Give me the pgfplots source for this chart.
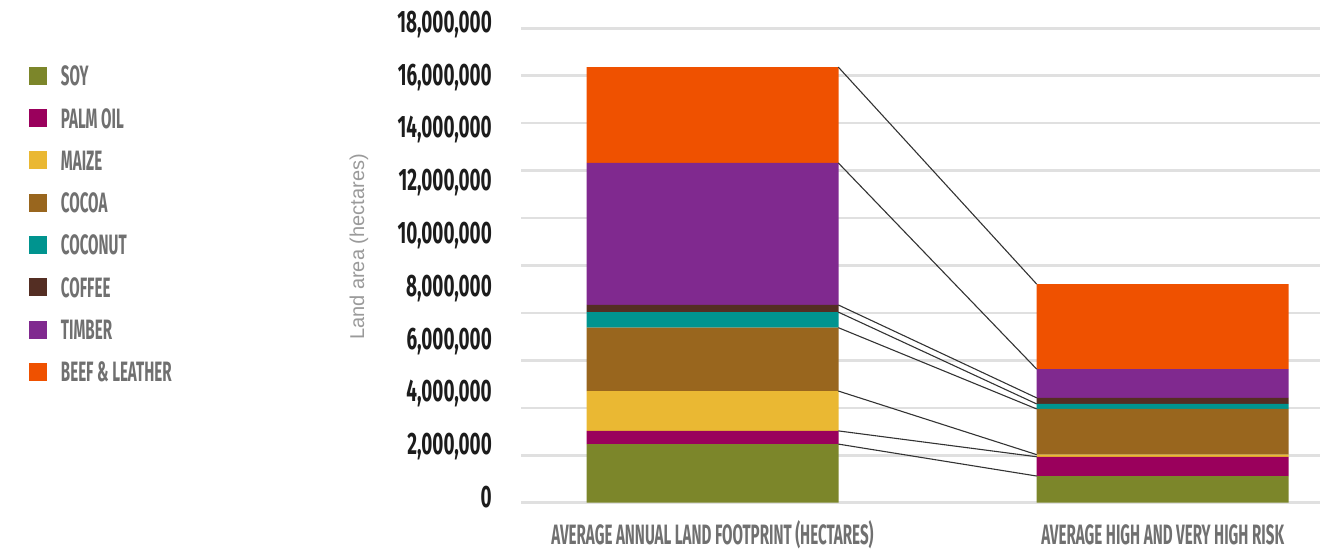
\documentclass[border=0pt]{standalone}
\usepackage{pgfplots}
\pgfplotsset{compat=1.18}
\usepackage{fontspec}
\setmainfont{Liberation Sans}
\newfontfamily\tickfont[FakeStretch=0.61]{Fira Sans}
\newfontfamily\catfont[FakeStretch=0.54]{Fira Sans}

\definecolor{soy}{HTML}{7C862A}
\definecolor{palm}{HTML}{9A005C}
\definecolor{maize}{HTML}{EAB833}
\definecolor{cocoa}{HTML}{99661E}
\definecolor{coconut}{HTML}{00948F}
\definecolor{coffee}{HTML}{542E23}
\definecolor{timber}{HTML}{80298F}
\definecolor{beef}{HTML}{EF5100}
\definecolor{gridgray}{HTML}{E0E0E0}
\definecolor{labgray}{HTML}{707070}
\definecolor{ylabgray}{HTML}{9A9A9A}
\definecolor{ticktext}{HTML}{1C1C1C}
\definecolor{linkgray}{HTML}{333333}

\pgfplotsset{
  sq/.style={fill=#1, draw=none,
    legend image code/.code={\fill[#1] (0pt,-9pt) rectangle (18pt,9pt);}},
  frame/.style={scale only axis, width=799pt, height=475.2pt,
    at={(521pt,49.3pt)}, anchor=south west,
    xmin=-0.4254, xmax=1.3494, ymin=0, ymax=18000000,
    scaled ticks=false},
}

\begin{document}
\begin{tikzpicture}
\useasboundingbox (0,0) rectangle (1331pt,552pt);

% stacked land footprint per commodity (hectares)
\begin{axis}[frame,
  ybar stacked, bar width=252pt,
  axis line style={draw=none},
  major tick length=0pt,
  xtick={0,1},
  xticklabels={AVERAGE ANNUAL LAND FOOTPRINT (HECTARES), AVERAGE HIGH AND VERY HIGH RISK},
  xticklabel style={font=\catfont\bfseries\fontsize{28}{28}\selectfont, text=labgray,
    anchor=north, inner sep=0pt, text height=16pt, text depth=0pt, yshift=-25.5pt},
  ytick={0,2000000,4000000,6000000,8000000,10000000,12000000,14000000,16000000,18000000},
  yticklabels={0,{2,000,000},{4,000,000},{6,000,000},{8,000,000},{10,000,000},{12,000,000},{14,000,000},{16,000,000},{18,000,000}},
  yticklabel style={font=\tickfont\bfseries\fontsize{31}{31}\selectfont, text=ticktext,
    anchor=base east, inner sep=0pt, xshift=-29pt, yshift=-4.8pt},
  extra y ticks={0,1797000,3594000,5391000,7188000,8985000,10782000,12579000,14376000,16173000,17970000},
  extra y tick labels={},
  extra y tick style={grid=major, major grid style={gridgray, line width=2.5pt}},
  ylabel={Land area (hectares)},
  ylabel style={at={(axis description cs:-0.2028,0.5381)}, anchor=center,
    font=\fontsize{20}{20}\selectfont, text=ylabgray},
  legend style={at={(axis description cs:-0.61577,0.91898)}, anchor=north west,
    draw=none, fill=none, inner sep=0pt, outer sep=0pt,
    row sep=22.5pt, column sep=14pt,
    font=\catfont\bfseries\fontsize{28}{28}\selectfont, text=labgray,
    nodes={inner sep=0pt, text depth=0pt}},
  legend cell align=left,
]
\addplot[sq=soy]     coordinates {(0,2220000) (1,1010000)};
\addplot[sq=palm]    coordinates {(0,500000)  (1,730000)};
\addplot[sq=maize]   coordinates {(0,1510000) (1,80000)};
\addplot[sq=cocoa]   coordinates {(0,2400000) (1,1730000)};
\addplot[sq=coconut] coordinates {(0,590000)  (1,190000)};
\addplot[sq=coffee]  coordinates {(0,270000)  (1,230000)};
\addplot[sq=timber]  coordinates {(0,5380000) (1,1090000)};
\addplot[sq=beef]    coordinates {(0,3630000) (1,3220000)};
\legend{SOY,PALM OIL,MAIZE,COCOA,COCONUT,COFFEE,TIMBER,BEEF \& LEATHER}
\end{axis}

% series lines joining the cumulative tops of the two bars
\begin{axis}[frame, hide axis]
\addplot[linkgray, line width=1.1pt, mark=none] coordinates {(0.2794,2220000)  (0.7201,1010000)};
\addplot[linkgray, line width=1.1pt, mark=none] coordinates {(0.2794,2720000)  (0.7201,1740000)};
\addplot[linkgray, line width=1.1pt, mark=none] coordinates {(0.2794,4230000)  (0.7201,1820000)};
\addplot[linkgray, line width=1.1pt, mark=none] coordinates {(0.2794,6630000)  (0.7201,3550000)};
\addplot[linkgray, line width=1.1pt, mark=none] coordinates {(0.2794,7220000)  (0.7201,3740000)};
\addplot[linkgray, line width=1.1pt, mark=none] coordinates {(0.2794,7490000)  (0.7201,3970000)};
\addplot[linkgray, line width=1.1pt, mark=none] coordinates {(0.2794,12870000) (0.7201,5060000)};
\addplot[linkgray, line width=1.1pt, mark=none] coordinates {(0.2794,16500000) (0.7201,8280000)};
\end{axis}
\end{tikzpicture}
\end{document}
